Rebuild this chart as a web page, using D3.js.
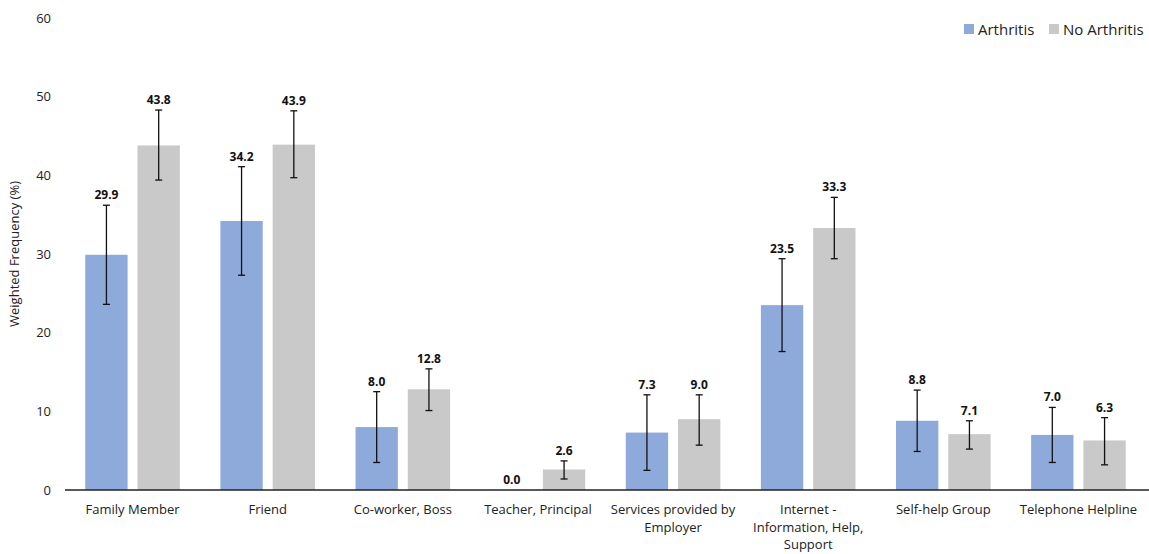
<!DOCTYPE html>
<html>
<head>
<meta charset="utf-8">
<script src="https://cdn.jsdelivr.net/npm/d3@7"></script>
<style>
  html, body { margin: 0; padding: 0; background: #fff; }
  svg { display: block; font-family: "Open Sans", "Liberation Sans", sans-serif; }
</style>
</head>
<body>
<svg id="chart" width="1149" height="554"></svg>
<script>
const categories = ["Family Member", "Friend", "Co-worker, Boss", "Teacher, Principal",
  "Services provided by\nEmployer", "Internet -\nInformation, Help,\nSupport", "Self-help Group", "Telephone Helpline"];
const seriesNames = ["Arthritis", "No Arthritis"];
const arthritis = [29.9, 34.2, 8.0, 0.0, 7.3, 23.5, 8.8, 7.0];
const noArthritis = [43.8, 43.9, 12.8, 2.6, 9.0, 33.3, 7.1, 6.3];
const arthritisLow = [23.6, 27.3, 3.5, null, 2.5, 17.6, 4.9, 3.5];
const arthritisHigh = [36.2, 41.1, 12.5, null, 12.1, 29.4, 12.7, 10.5];
const noArthritisLow = [39.4, 39.7, 10.1, 1.4, 5.7, 29.4, 5.2, 3.2];
const noArthritisHigh = [48.3, 48.2, 15.4, 3.7, 12.1, 37.2, 8.8, 9.2];
const yTicks = [0, 10, 20, 30, 40, 50, 60];
const colors = ["#8eaadb", "#c9c9c9"];

const svg = d3.select("#chart");
const margin = { left: 65, right: 3, top: 18, bottom: 64 };
const W = 1149, H = 554;

const y = d3.scaleLinear().domain([0, 60]).range([H - margin.bottom, margin.top]);
const x0 = d3.scaleBand().domain(categories).range([65, 1146]).paddingInner(0.3).paddingOuter(0.15);
const x1 = d3.scaleBand().domain(seriesNames).range([0, x0.bandwidth()]).paddingInner(0.19);

const rows = categories.map((c, i) => ({
  cat: c,
  vals: [
    { s: seriesNames[0], v: arthritis[i], lo: arthritisLow[i], hi: arthritisHigh[i], ci: 0 },
    { s: seriesNames[1], v: noArthritis[i], lo: noArthritisLow[i], hi: noArthritisHigh[i], ci: 1 }
  ]
}));

// y axis tick labels
const yAxis = d3.axisLeft(y).tickValues(yTicks).tickSize(0).tickPadding(0).tickFormat(d3.format("d"));
const gy = svg.append("g").attr("transform", "translate(51,0)").call(yAxis);
gy.select(".domain").remove();
gy.selectAll("text").attr("font-size", 13).attr("fill", "#222").attr("font-family", "'Open Sans', sans-serif");

// y label
svg.append("text")
  .attr("transform", `translate(19,${(y(0) + y(60)) / 2}) rotate(-90)`)
  .attr("text-anchor", "middle")
  .attr("font-size", 13)
  .attr("fill", "#222")
  .text("Weighted Frequency (%)");

// bars
const groups = svg.append("g").selectAll("g").data(rows).join("g")
  .attr("transform", d => `translate(${x0(d.cat)},0)`);

groups.selectAll("rect").data(d => d.vals).join("rect")
  .attr("x", d => x1(d.s))
  .attr("width", x1.bandwidth())
  .attr("y", d => y(d.v))
  .attr("height", d => y(0) - y(d.v))
  .attr("fill", d => colors[d.ci]);

// error bars
const eb = groups.selectAll("g.err").data(d => d.vals.filter(v => v.lo !== null)).join("g").attr("class", "err");
eb.append("line")
  .attr("x1", d => x1(d.s) + x1.bandwidth() / 2)
  .attr("x2", d => x1(d.s) + x1.bandwidth() / 2)
  .attr("y1", d => y(d.lo)).attr("y2", d => y(d.hi))
  .attr("stroke", "#111").attr("stroke-width", 1.3);
[ "lo", "hi" ].forEach(k => {
  eb.append("line")
    .attr("x1", d => x1(d.s) + x1.bandwidth() / 2 - 3.5)
    .attr("x2", d => x1(d.s) + x1.bandwidth() / 2 + 3.5)
    .attr("y1", d => y(d[k])).attr("y2", d => y(d[k]))
    .attr("stroke", "#111").attr("stroke-width", 1.3);
});

// value labels
groups.selectAll("text.val").data(d => d.vals).join("text").attr("class", "val")
  .attr("x", d => x1(d.s) + x1.bandwidth() / 2)
  .attr("y", d => y(d.hi !== null ? d.hi : d.v) - 6)
  .attr("text-anchor", "middle")
  .attr("font-size", 12)
  .attr("font-weight", "bold")
  .attr("fill", "#111")
  .text(d => d3.format(".1f")(d.v));

// x axis line
svg.append("line")
  .attr("x1", 65).attr("x2", 1149)
  .attr("y1", y(0)).attr("y2", y(0))
  .attr("stroke", "#222").attr("stroke-width", 1.3);

// x labels
const xl = svg.append("g").selectAll("text").data(categories).join("text")
  .attr("x", d => x0(d) + x0.bandwidth() / 2)
  .attr("y", y(0) + 24)
  .attr("text-anchor", "middle")
  .attr("font-size", 13)
  .attr("fill", "#222");
xl.each(function(d) {
  const t = d3.select(this);
  d.split("\n").forEach((line, i) => {
    t.append("tspan").attr("x", x0(d) + x0.bandwidth() / 2).attr("dy", i === 0 ? 0 : 17.5).text(line);
  });
});

// legend
const legend = svg.append("g");
const legX = [964, 1049];
seriesNames.forEach((s, i) => {
  legend.append("rect").attr("x", legX[i]).attr("y", 24).attr("width", 10).attr("height", 10).attr("fill", colors[i]);
  legend.append("text").attr("x", legX[i] + 14).attr("y", 34.5)
    .attr("font-size", 15).attr("fill", "#222").text(s);
});
</script>
</body>
</html>
